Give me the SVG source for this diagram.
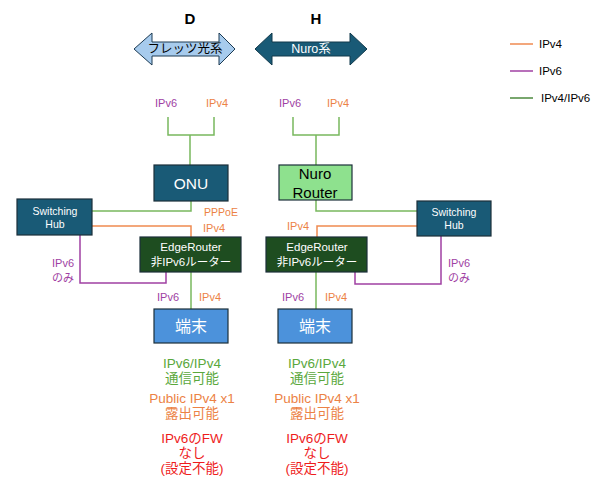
<svg xmlns="http://www.w3.org/2000/svg" width="599" height="488" viewBox="0 0 599 488">
<style>
text{font-family:"Liberation Sans","Noto Sans CJK JP",Arial,sans-serif;text-anchor:middle;dominant-baseline:central}
.v4{fill:#ec8245}
.v6{fill:#a03fa3}
.gt{fill:#5aa83c}
.red{fill:#ee1c1c}
.l4{stroke:#ef8a50;stroke-width:1.5;fill:none}
.l6{stroke:#a040a3;stroke-width:1.5;fill:none}
.lg{stroke:#78b85e;stroke-width:1.5;fill:none}
.box{stroke:#1c2f3a;stroke-width:1.2}
.teal{fill:#195a76}
.dg{fill:#1e4d20}
.bl{fill:#4c92db}
.wt{fill:#ffffff}
.lbl{font-size:11px}
.bt{font-size:13.5px}
.hub{font-size:10.5px}
.er{font-size:11.5px}
</style>
<rect width="599" height="488" fill="#ffffff"/>
<g id="titles">
<text x="190" y="18" font-size="15" font-weight="bold">D</text>
<text x="316" y="18" font-size="15" font-weight="bold">H</text>
</g>
<g id="flets-arrow">
<path d="M134,49 L152,33 L152,42 L219,42 L219,33 L235,49 L219,65 L219,56 L152,56 L152,65 Z" fill="#a7cbed" stroke="#1c3a52" stroke-width="1"/>
<text x="185" y="49" font-size="12.5">フレッツ光系</text>
</g>
<g id="nuro-arrow">
<path d="M255,49 L272,33 L272,42 L350,42 L350,33 L367,49 L350,65 L350,56 L272,56 L272,65 Z" fill="#195a76" stroke="#10394b" stroke-width="1"/>
<text x="311" y="49" font-size="12.5" class="wt">Nuro系</text>
</g>
<g id="legend">
<line x1="510" y1="44" x2="533" y2="44" class="l4"/>
<line x1="510" y1="71" x2="533" y2="71" stroke="#a040a3" stroke-width="1.5"/>
<line x1="510" y1="98" x2="533" y2="98" stroke="#4d8a3e" stroke-width="1.5"/>
<text x="539" y="44" font-size="11.5" style="text-anchor:start">IPv4</text>
<text x="539" y="71" font-size="11.5" style="text-anchor:start">IPv6</text>
<text x="541" y="98" font-size="11.5" style="text-anchor:start">IPv4/IPv6</text>
</g>
<g id="connectors">
<path d="M168,117 V135 H214 V117 M190,135 V165" class="lg"/>
<path d="M293,117 V135 H339 V117 M316,135 V165" class="lg"/>
<path d="M191,201 V211 H92" class="lg"/>
<path d="M92,226 H191 V237" class="l4"/>
<path d="M80,235 V283 H166 V272" class="l6"/>
<path d="M191,272 V309" class="lg"/>
<path d="M316,200 V211 H417" class="lg"/>
<path d="M417,226 H317 V237" class="l4"/>
<path d="M441,236 V284 H355 V272" class="l6"/>
<path d="M316,272 V309" class="lg"/>
</g>
<g id="labels">
<text x="166" y="103" class="lbl v6">IPv6</text>
<text x="217" y="103" class="lbl v4">IPv4</text>
<text x="290" y="103" class="lbl v6">IPv6</text>
<text x="338" y="103" class="lbl v4">IPv4</text>
<text x="221" y="212" font-size="10.5" class="v4">PPPoE</text>
<text x="214" y="228" class="lbl v4">IPv4</text>
<text x="298" y="226" class="lbl v4">IPv4</text>
<text x="63" y="263" class="lbl v6">IPv6</text>
<text x="63" y="278" class="lbl v6">のみ</text>
<text x="459" y="263" class="lbl v6">IPv6</text>
<text x="459" y="278" class="lbl v6">のみ</text>
<text x="168" y="297" class="lbl v6">IPv6</text>
<text x="210" y="297" class="lbl v4">IPv4</text>
<text x="293" y="297" class="lbl v6">IPv6</text>
<text x="336" y="297" class="lbl v4">IPv4</text>
</g>
<g id="onu">
<rect x="154" y="165" width="74" height="36" class="box teal"/>
<text x="191" y="183" font-size="15.5" class="wt">ONU</text>
</g>
<g id="nuro-router">
<rect x="279" y="165" width="73" height="35" class="box" fill="#8ee18e"/>
<text x="315" y="173.5" font-size="15">Nuro</text>
<text x="315" y="192" font-size="15">Router</text>
</g>
<g id="hub-left">
<rect x="17" y="199" width="75" height="36" class="box teal"/>
<text x="55" y="211" class="hub wt">Switching</text>
<text x="55" y="224" class="hub wt">Hub</text>
</g>
<g id="hub-right">
<rect x="417" y="201" width="74" height="35" class="box teal"/>
<text x="454" y="212" class="hub wt">Switching</text>
<text x="454" y="225" class="hub wt">Hub</text>
</g>
<g id="edge-left">
<rect x="140" y="237" width="101" height="35" class="box dg"/>
<text x="191" y="247" class="er wt">EdgeRouter</text>
<text x="191" y="262" class="er wt">非IPv6ルーター</text>
</g>
<g id="edge-right">
<rect x="266" y="237" width="101" height="35" class="box dg"/>
<text x="317" y="247" class="er wt">EdgeRouter</text>
<text x="317" y="262" class="er wt">非IPv6ルーター</text>
</g>
<g id="term-left">
<rect x="154" y="309" width="74" height="34" class="box bl"/>
<text x="191" y="326" font-size="16" class="wt">端末</text>
</g>
<g id="term-right">
<rect x="278" y="309" width="74" height="34" class="box bl"/>
<text x="315" y="326" font-size="16" class="wt">端末</text>
</g>
<g id="notes-left">
<text x="192" y="363" class="bt gt">IPv6/IPv4</text>
<text x="192" y="378" class="bt gt">通信可能</text>
<text x="192" y="398" class="bt v4">Public IPv4 x1</text>
<text x="192" y="413" class="bt v4">露出可能</text>
<text x="192" y="438" class="bt red">IPv6のFW</text>
<text x="192" y="453" class="bt red">なし</text>
<text x="192" y="468" class="bt red">(設定不能)</text>
</g>
<g id="notes-right">
<text x="317" y="363" class="bt gt">IPv6/IPv4</text>
<text x="317" y="378" class="bt gt">通信可能</text>
<text x="317" y="398" class="bt v4">Public IPv4 x1</text>
<text x="317" y="413" class="bt v4">露出可能</text>
<text x="317" y="438" class="bt red">IPv6のFW</text>
<text x="317" y="453" class="bt red">なし</text>
<text x="317" y="468" class="bt red">(設定不能)</text>
</g>
</svg>
